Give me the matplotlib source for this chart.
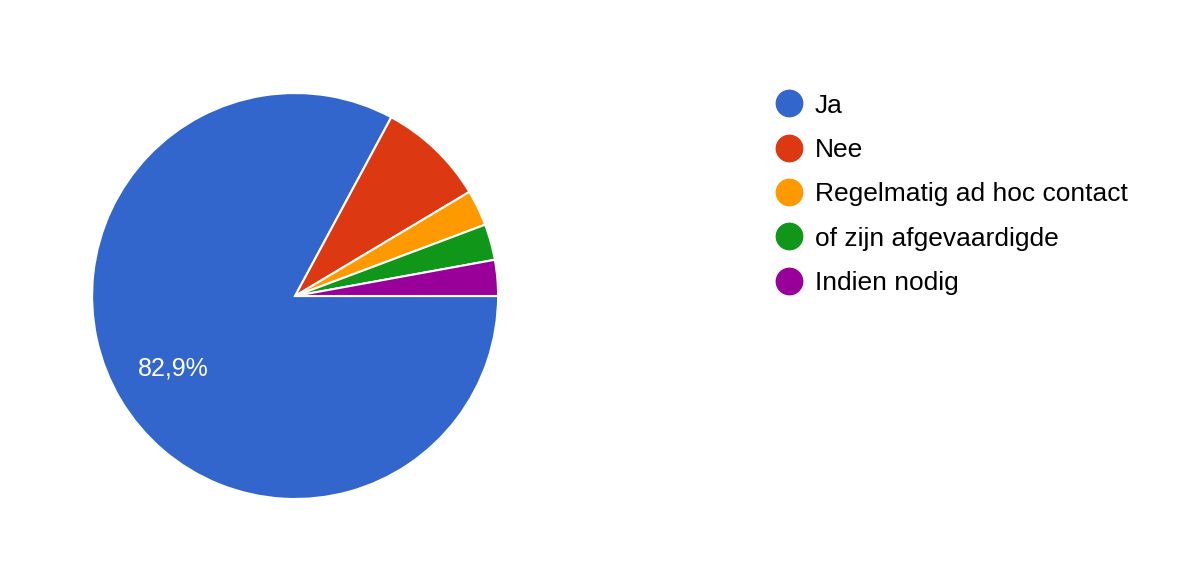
import matplotlib.pyplot as plt
from matplotlib.lines import Line2D

# Survey answers (35 responses)
labels = ["Ja", "Nee", "Regelmatig ad hoc contact", "of zijn afgevaardigde", "Indien nodig"]
counts = [29, 3, 1, 1, 1]
colors = ["#3366cc", "#dc3912", "#ff9900", "#109618", "#990099"]

plt.rcParams['font.family'] = ['Liberation Sans', 'DejaVu Sans']


def pct_label(p):
    # only the big slice gets a label, Google Forms style
    return f"{p:.1f}%".replace(".", ",") if p > 10 else ""


fig = plt.figure(figsize=(11.93, 5.73), dpi=100)
ax = fig.add_axes([0.0772, 0.1291, 0.3403, 0.7086])
wedges, texts, autotexts = ax.pie(
    counts, colors=colors, startangle=0, counterclock=False,
    autopct=pct_label, pctdistance=0.7,
    wedgeprops=dict(edgecolor="white", linewidth=1.5),
    textprops=dict(color="white", fontsize=18),
)
ax.set_xlim(-1, 1)
ax.set_ylim(-1, 1)
ax.set_aspect("equal")

handles = [Line2D([0], [0], marker="o", linestyle="", markersize=19,
                  markerfacecolor=c, markeredgecolor=c) for c in colors]
fig.legend(handles, labels, loc="upper left", bbox_to_anchor=(0.6416, 0.855),
           frameon=False, fontsize=19, handletextpad=0.48, labelspacing=0.77,
           handlelength=1.0, borderaxespad=0)

fig.savefig("out.png", dpi=100, facecolor="white")
